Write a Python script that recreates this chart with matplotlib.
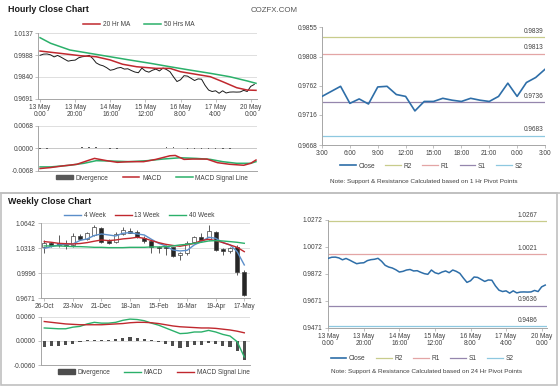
import matplotlib
matplotlib.use('Agg')
import matplotlib.pyplot as plt
from matplotlib.lines import Line2D
from matplotlib.patches import Patch, Rectangle

plt.rcParams['font.family'] = ['Liberation Sans', 'DejaVu Sans']

# ---------------- DATA ----------------
# Hourly close (2-hour steps, hour index from 13 May 0:00)
hourly_x = list(range(0, 124, 2))
hourly_close = [0.9987, 0.9995, 0.9996, 0.9990, 0.9976, 0.9986, 0.9974, 0.9960,
                0.9947, 0.9952, 0.9954, 0.9970, 0.9977, 0.9980, 0.9987, 0.9965,
                0.9935, 0.9922, 0.9915, 0.9902, 0.9885, 0.9890, 0.9900, 0.9904,
                0.9893, 0.9895, 0.9883, 0.9873, 0.9868, 0.9900, 0.9880, 0.9872,
                0.9885, 0.9893, 0.9880, 0.9900, 0.9890, 0.9875, 0.9840, 0.9808,
                0.9820, 0.9848, 0.9845, 0.9830, 0.9815, 0.9826, 0.9824, 0.9782,
                0.9750, 0.9740, 0.9745, 0.9728, 0.9745, 0.9730, 0.9736, 0.9737,
                0.9736, 0.9737, 0.9748, 0.9740, 0.9775, 0.9788]
ma20_x = [0, 11, 23, 32, 40, 47, 55, 66, 74, 80, 89, 97, 104, 112, 118, 123]
ma20 = [1.0016, 1.0001, 0.9984, 0.9977, 0.9955, 0.9926, 0.9909, 0.9898, 0.9898,
        0.9875, 0.9857, 0.9841, 0.9807, 0.9766, 0.9750, 0.9748]
ma50_x = [0, 6, 17, 28, 40, 51, 63, 74, 85, 97, 108, 118, 123]
ma50 = [1.0107, 1.0069, 1.0023, 1.0001, 0.9977, 0.9955, 0.9932, 0.9909, 0.9887,
        0.9864, 0.9841, 0.9812, 0.9796]
hourly_ticks = [0, 20, 40, 60, 80, 100, 120]
hourly_tick_labels = ['13 May\n0:00', '13 May\n20:00', '14 May\n16:00', '15 May\n12:00',
                      '16 May\n8:00', '17 May\n4:00', '20 May\n0:00']
hourly_yticks = [0.9691, 0.9840, 0.9988, 1.0137]

macd_h_x = [0, 6, 13, 21, 27, 31, 38, 44, 51, 59, 66, 74, 77, 82, 87, 95, 101, 108, 116, 120, 123]
macd_h = [-0.0062, -0.0059, -0.0054, -0.0049, -0.0038, -0.0031, -0.0038, -0.0043, -0.0041,
          -0.0041, -0.0034, -0.0023, -0.0022, -0.0034, -0.0033, -0.0033, -0.0044, -0.0049,
          -0.0052, -0.0046, -0.0036]
sig_h_x = [0, 6, 17, 25, 32, 40, 51, 61, 70, 80, 89, 97, 104, 112, 120, 123]
sig_h = [-0.0057, -0.0057, -0.0052, -0.0046, -0.0038, -0.0039, -0.0041, -0.0038, -0.0033,
         -0.0029, -0.0031, -0.0034, -0.0041, -0.0046, -0.0046, -0.0041]
div_h_x = list(range(0, 124, 4))
div_h = [-0.0002, -0.0001, 0.0001, 0.0001, 0.0001, 0.0002, 0.0003, 0.0004, 0.0003, 0.0001,
         -0.0001, -0.0002, 0.0000, 0.0001, 0.0001, 0.0001, 0.0002, 0.0002, 0.0003, 0.0003,
         0.0001, -0.0001, -0.0001, -0.0001, -0.0002, -0.0003, -0.0002, -0.0001, 0.0000,
         0.0001, 0.0002]
macd_yticks = [-0.0068, 0.0000, 0.0068]

# 24h close with 1 Hr pivots
day_x = list(range(25))
day_close = [0.9745, 0.9753, 0.9761, 0.9734, 0.9741, 0.9733, 0.9760, 0.9761, 0.9748,
             0.9745, 0.9722, 0.9737, 0.9737, 0.9742, 0.9739, 0.9737, 0.9742, 0.9739,
             0.9737, 0.9745, 0.9766, 0.9745, 0.9767, 0.9775, 0.9788]
day_levels = {'R2': 0.9839, 'R1': 0.9813, 'S1': 0.9736, 'S2': 0.9683}
day_yticks = [0.9668, 0.9716, 0.9762, 0.9808, 0.9855]
day_ticks = [0, 3, 6, 9, 12, 15, 18, 21, 24]
day_tick_labels = ['3:00', '6:00', '9:00', '12:00', '15:00', '18:00', '21:00', '0:00', '3:00']

# Weekly candles
week_labels = ['26-Oct', '23-Nov', '21-Dec', '18-Jan', '15-Feb', '16-Mar', '19-Apr', '17-May']
week_open = [1.0331, 1.0392, 1.0383, 1.0360, 1.0362, 1.0478, 1.0443, 1.0491, 1.0577, 1.0418,
             1.0405, 1.0504, 1.0547, 1.0534, 1.0448, 1.0418, 1.0331, 1.0331, 1.0331, 1.0232,
             1.0262, 1.0405, 1.0461, 1.0443, 1.0534, 1.0305, 1.0288, 1.0340, 1.0016]
week_close = [1.0392, 1.0349, 1.0362, 1.0345, 1.0478, 1.0443, 1.0513, 1.0599, 1.0405, 1.0392,
              1.0504, 1.0556, 1.0521, 1.0461, 1.0418, 1.0340, 1.0323, 1.0323, 1.0219, 1.0254,
              1.0392, 1.0461, 1.0426, 1.0547, 1.0297, 1.0288, 1.0323, 1.0016, 0.9714]
week_high = [1.0426, 1.0405, 1.0491, 1.0426, 1.0513, 1.0504, 1.0534, 1.0620, 1.0590, 1.0435,
             1.0534, 1.0599, 1.0577, 1.0556, 1.0478, 1.0426, 1.0349, 1.0362, 1.0340, 1.0275,
             1.0418, 1.0478, 1.0513, 1.0620, 1.0547, 1.0318, 1.0340, 1.0362, 1.0038]
week_low = [1.0254, 1.0340, 1.0340, 1.0305, 1.0340, 1.0426, 1.0426, 1.0478, 1.0392, 1.0374,
            1.0392, 1.0491, 1.0513, 1.0448, 1.0392, 1.0262, 1.0254, 1.0232, 1.0210, 1.0167,
            1.0232, 1.0392, 1.0418, 1.0426, 1.0284, 1.0232, 1.0254, 0.9973, 0.9701]
ma4w = [1.0318, 1.0340, 1.0362, 1.0370, 1.0374, 1.0420, 1.0440, 1.0484, 1.0504, 1.0491,
        1.0478, 1.0513, 1.0521, 1.0504, 1.0491, 1.0435, 1.0383, 1.0349, 1.0297, 1.0284,
        1.0292, 1.0362, 1.0405, 1.0461, 1.0448, 1.0392, 1.0362, 1.0275, 1.0103]
ma13w = [1.0405, 1.0396, 1.0383, 1.0378, 1.0374, 1.0380, 1.0392, 1.0410, 1.0426, 1.0418,
         1.0426, 1.0440, 1.0448, 1.0461, 1.0448, 1.0418, 1.0392, 1.0370, 1.0355, 1.0345,
         1.0362, 1.0383, 1.0418, 1.0435, 1.0418, 1.0392, 1.0362, 1.0331, 1.0275]
ma40w = [1.0349, 1.0349, 1.0349, 1.0345, 1.0340, 1.0340, 1.0336, 1.0331, 1.0331, 1.0327,
         1.0327, 1.0327, 1.0331, 1.0331, 1.0331, 1.0336, 1.0336, 1.0340, 1.0349, 1.0362,
         1.0370, 1.0383, 1.0396, 1.0413, 1.0418, 1.0413, 1.0405, 1.0396, 1.0383]
week_yticks = [0.9671, 0.9996, 1.0318, 1.0642]
macd_w = [0.0032, 0.0031, 0.0030, 0.0030, 0.0034, 0.0036, 0.0042, 0.0046, 0.0044, 0.0044,
          0.0046, 0.0051, 0.0054, 0.0053, 0.0050, 0.0044, 0.0039, 0.0032, 0.0025, 0.0018,
          0.0019, 0.0022, 0.0022, 0.0026, 0.0022, 0.0016, 0.0012, -0.0002, -0.0040]
sig_w = [0.0048, 0.0046, 0.0044, 0.0042, 0.0041, 0.0040, 0.0040, 0.0040, 0.0040, 0.0041,
         0.0042, 0.0043, 0.0045, 0.0046, 0.0046, 0.0045, 0.0043, 0.0040, 0.0037, 0.0035,
         0.0034, 0.0033, 0.0032, 0.0032, 0.0031, 0.0029, 0.0027, 0.0024, 0.0020]
div_w = [-0.0016, -0.0014, -0.0013, -0.0010, -0.0008, -0.0004, 0.0003, 0.0003, 0.0002, 0.0002,
         0.0004, 0.0008, 0.0009, 0.0007, 0.0004, 0.0001, -0.0004, -0.0008, -0.0012, -0.0018,
         -0.0015, -0.0011, -0.0010, -0.0006, -0.0009, -0.0013, -0.0015, -0.0026, -0.0048]
macd_w_yticks = [-0.0060, 0.0000, 0.0060]

# 24 Hr pivot chart
pivot24 = {'R2': 1.0267, 'R1': 1.0021, 'S1': 0.9636, 'S2': 0.9486}
big_yticks = [0.9471, 0.9671, 0.9872, 1.0072, 1.0272]

# ---------------- STYLE ----------------
RED = '#c0282e'
GREEN = '#2bb06a'
BLUE = '#5b8ec9'
CLOSE_BLUE = '#2e6ea8'
LVL_COL = {'R2': '#c8cc8c', 'R1': '#e3a5a5', 'S1': '#9586ad', 'S2': '#8ec8e0'}
TXT = '#404040'
SPINE = '#a6a6a6'
GRID = '#d9d9d9'
FS = 4.7
NOTE_FS = 4.6

W, H = 560, 386
fig = plt.figure(figsize=(W / 100, H / 100), dpi=100)


def axes_px(x0, y0, x1, y1):
    return fig.add_axes([x0 / W, 1 - y1 / H, (x1 - x0) / W, (y1 - y0) / H])


def style(ax, grid=True):
    for s in ['top', 'right']:
        ax.spines[s].set_visible(False)
    for s in ['left', 'bottom']:
        ax.spines[s].set_color(SPINE)
        ax.spines[s].set_linewidth(0.7)
    ax.tick_params(axis='both', labelsize=FS, colors=TXT, length=2, width=0.5, pad=1.5)
    ax.tick_params(axis='both', color=SPINE)
    if grid:
        ax.yaxis.grid(True, color=GRID, lw=0.6)
        ax.set_axisbelow(True)
    ax.set_facecolor('none')


def fmt4(vals):
    return ['%.4f' % v for v in vals]

# Titles
fig.text(7.5 / W, 1 - 9.5 / H, 'Hourly Close Chart', fontsize=6.4, fontweight='bold',
         color='#1a1a1a', va='center', ha='left')
fig.text(251 / W, 1 - 10 / H, 'COZFX.COM', fontsize=5.7, color='#555555', va='center', ha='left')
fig.text(7.5 / W, 1 - 202 / H, 'Weekly Close Chart', fontsize=6.4, fontweight='bold',
         color='#1a1a1a', va='center', ha='left')

# separator / frame
fig.add_artist(Line2D([0, 1], [1 - 193 / H, 1 - 193 / H], color='#c0c0c0', lw=1.2))
fig.add_artist(Rectangle((1 / W, 1 / H), (556.5 - 1) / W, (193 - 1) / H, fill=False,
                         edgecolor='#c0c0c0', lw=1.2))

# ---------- Hourly main ----------
ax1 = axes_px(38.3, 33.3, 256.7, 98.7)
style(ax1)
ax1.plot(hourly_x, hourly_close, color='#1a1a1a', lw=0.7, zorder=3)
ax1.plot(ma20_x, ma20, color=RED, lw=1.1, zorder=4)
ax1.plot(ma50_x, ma50, color=GREEN, lw=1.1, zorder=4)
ax1.set_xlim(-1, 123.4)
ax1.set_ylim(hourly_yticks[0], hourly_yticks[-1])
ax1.set_yticks(hourly_yticks)
ax1.set_yticklabels(fmt4(hourly_yticks))
ax1.set_xticks(hourly_ticks)
ax1.set_xticklabels(hourly_tick_labels, linespacing=1.0)
ax1.legend(handles=[Line2D([], [], color=RED, lw=1.1, label='20 Hr MA'),
                    Line2D([], [], color=GREEN, lw=1.1, label='50 Hrs MA')],
           loc='center', bbox_to_anchor=(0.46, 1.13), ncol=2, frameon=False, fontsize=FS,
           handlelength=2.6, columnspacing=2.2, handletextpad=0.4, labelcolor=TXT)

# ---------- Hourly MACD ----------
ax2 = axes_px(38.3, 126, 256.7, 170.5)
style(ax2)
ax2.bar(div_h_x, div_h, width=1.0, color='#595959', zorder=2)
ax2.axhline(0, color='#bfbfbf', lw=0.5, zorder=1)
ax2.plot(macd_h_x, macd_h, color=RED, lw=1.1, zorder=4)
ax2.plot(sig_h_x, sig_h, color=GREEN, lw=1.1, zorder=3)
ax2.set_xlim(-1, 123.4)
ax2.set_ylim(macd_yticks[0], macd_yticks[-1])
ax2.set_yticks(macd_yticks)
ax2.set_yticklabels(fmt4(macd_yticks))
ax2.set_xticks(hourly_ticks)
ax2.set_xticklabels([])
ax2.tick_params(axis='x', length=0)
ax2.legend(handles=[Patch(color='#595959', label='Divergence'),
                    Line2D([], [], color=RED, lw=1.1, label='MACD'),
                    Line2D([], [], color=GREEN, lw=1.1, label='MACD Signal Line')],
           loc='center', bbox_to_anchor=(0.52, -0.17), ncol=3, frameon=False, fontsize=FS,
           handlelength=2.6, handleheight=0.6, columnspacing=2.2, handletextpad=0.4, labelcolor=TXT)

# ---------- 1 Hr pivot chart ----------
ax3 = axes_px(322, 27, 545, 145)
style(ax3, grid=False)
for k in ['R2', 'R1', 'S1', 'S2']:
    v = day_levels[k]
    ax3.axhline(v, color=LVL_COL[k], lw=0.9, zorder=2)
    ax3.text(23.85, v + 0.0004, '%.4f' % v, ha='right', va='bottom', fontsize=FS, color=TXT)
ax3.plot(day_x, day_close, color=CLOSE_BLUE, lw=1.2, zorder=3)
ax3.set_xlim(0, 24)
ax3.set_ylim(day_yticks[0], day_yticks[-1])
ax3.set_yticks(day_yticks)
ax3.set_yticklabels(fmt4(day_yticks))
ax3.set_xticks(day_ticks)
ax3.set_xticklabels(day_tick_labels)
ax3.legend(handles=[Line2D([], [], color=CLOSE_BLUE, lw=1.2, label='Close')] +
           [Line2D([], [], color=LVL_COL[k], lw=0.9, label=k) for k in ['R2', 'R1', 'S1', 'S2']],
           loc='center', bbox_to_anchor=(0.49, -0.18), ncol=5, frameon=False, fontsize=FS,
           handlelength=2.4, columnspacing=1.6, handletextpad=0.4, labelcolor=TXT)
fig.text(424 / W, 1 - 181 / H, 'Note: Support & Resistance Calculated based on 1 Hr Pivot Points',
         fontsize=NOTE_FS, color=TXT, ha='center', va='center')

# ---------- Weekly candles ----------
ax4 = axes_px(40.7, 223.3, 250, 298.3)
style(ax4)
wx = list(range(len(week_open)))
bottoms = [min(o, c) for o, c in zip(week_open, week_close)]
heights = [max(abs(c - o), 0.0003) for o, c in zip(week_open, week_close)]
colors = ['white' if c >= o else '#262626' for o, c in zip(week_open, week_close)]
ax4.vlines(wx, week_low, week_high, color='#404040', lw=0.6, zorder=2)
ax4.bar(wx, heights, bottom=bottoms, width=0.55, color=colors, edgecolor='#404040',
        linewidth=0.5, zorder=3)
ax4.plot(wx, ma4w, color=BLUE, lw=1.0, zorder=4)
ax4.plot(wx, ma13w, color=RED, lw=1.0, zorder=4)
ax4.plot(wx, ma40w, color=GREEN, lw=1.0, zorder=4)
ax4.set_xlim(-0.5, 28.8)
ax4.set_ylim(week_yticks[0], week_yticks[-1])
ax4.set_yticks(week_yticks)
ax4.set_yticklabels(fmt4(week_yticks))
ax4.set_xticks(list(range(0, 29, 4)))
ax4.set_xticklabels(week_labels)
ax4.legend(handles=[Line2D([], [], color=BLUE, lw=1.0, label='4 Week'),
                    Line2D([], [], color=RED, lw=1.0, label='13 Week'),
                    Line2D([], [], color=GREEN, lw=1.0, label='40 Week')],
           loc='center', bbox_to_anchor=(0.47, 1.1), ncol=3, frameon=False, fontsize=FS,
           handlelength=2.6, columnspacing=1.4, handletextpad=0.4, labelcolor=TXT)

# ---------- Weekly MACD ----------
ax5 = axes_px(40.7, 316.7, 250, 365)
style(ax5)
ax5.bar(wx, div_w, width=0.45, color='#4d4d4d', zorder=2)
ax5.plot(wx, macd_w, color=GREEN, lw=1.0, zorder=3)
ax5.plot(wx, sig_w, color=RED, lw=1.0, zorder=3)
ax5.set_xlim(-0.5, 28.8)
ax5.set_ylim(macd_w_yticks[0], macd_w_yticks[-1])
ax5.set_yticks(macd_w_yticks)
ax5.set_yticklabels(fmt4(macd_w_yticks))
ax5.set_xticks([])
ax5.legend(handles=[Patch(color='#4d4d4d', label='Divergence'),
                    Line2D([], [], color=GREEN, lw=1.0, label='MACD'),
                    Line2D([], [], color=RED, lw=1.0, label='MACD Signal Line')],
           loc='center', bbox_to_anchor=(0.54, -0.15), ncol=3, frameon=False, fontsize=FS,
           handlelength=2.6, handleheight=0.6, columnspacing=2.2, handletextpad=0.4, labelcolor=TXT)

# ---------- 24 Hr pivot chart ----------
ax6 = axes_px(327.7, 220, 547, 327.7)
style(ax6, grid=False)
for k in ['R2', 'R1', 'S1', 'S2']:
    v = pivot24[k]
    ax6.axhline(v, color=LVL_COL[k], lw=0.9, zorder=2)
    ax6.text(117.5, v + 0.0015, '%.4f' % v, ha='right', va='bottom', fontsize=FS, color=TXT)
ax6.plot(hourly_x, hourly_close, color=CLOSE_BLUE, lw=1.1, zorder=3)
ax6.set_xlim(-0.3, 123)
ax6.set_ylim(big_yticks[0], big_yticks[-1])
ax6.set_yticks(big_yticks)
ax6.set_yticklabels(fmt4(big_yticks))
ax6.set_xticks(hourly_ticks)
ax6.set_xticklabels(hourly_tick_labels, linespacing=1.0)
ax6.legend(handles=[Line2D([], [], color=CLOSE_BLUE, lw=1.2, label='Close')] +
           [Line2D([], [], color=LVL_COL[k], lw=0.9, label=k) for k in ['R2', 'R1', 'S1', 'S2']],
           loc='center', bbox_to_anchor=(0.43, -0.29), ncol=5, frameon=False, fontsize=FS,
           handlelength=2.4, columnspacing=1.6, handletextpad=0.4, labelcolor=TXT)
fig.text(427 / W, 1 - 371.7 / H, 'Note: Support & Resistance Calculated based on 24 Hr Pivot Points',
         fontsize=NOTE_FS, color=TXT, ha='center', va='center')

fig.savefig('out.png', dpi=100)
